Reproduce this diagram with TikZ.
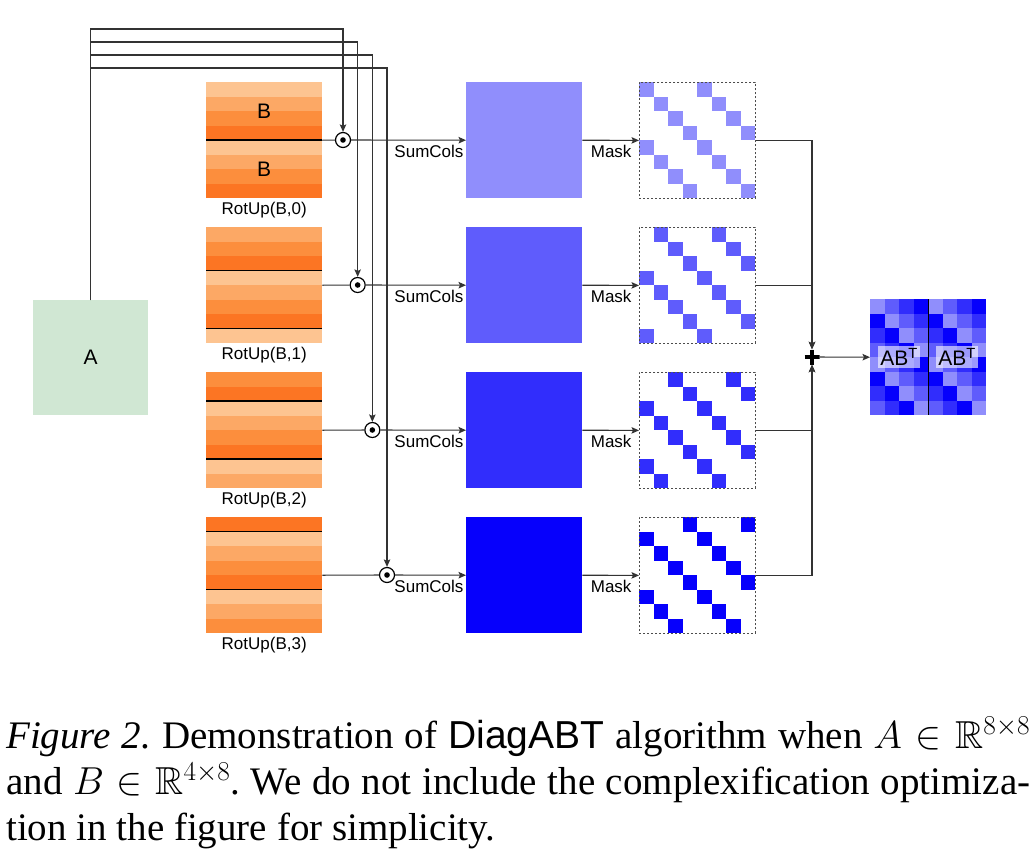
\RequirePackage{fix-cm}
\documentclass[tikz,border=0pt]{standalone}
\usepackage{amssymb}
\usepackage{fontspec}
\setmainfont{Liberation Serif}
\setsansfont{Liberation Sans}
\usetikzlibrary{arrows.meta}
\definecolor{bz0}{RGB}{253,196,145}
\definecolor{bz1}{RGB}{252,168,101}
\definecolor{bz2}{RGB}{252,142,61}
\definecolor{bz3}{RGB}{252,117,35}
\definecolor{sz0}{RGB}{144,142,252}
\definecolor{sz1}{RGB}{95,92,252}
\definecolor{sz2}{RGB}{49,45,252}
\definecolor{sz3}{RGB}{6,0,252}
\definecolor{agreen}{RGB}{208,231,211}
\frenchspacing
\begin{document}
\begin{tikzpicture}
	[x=1pt,y=-1pt,
	 conn/.style={draw=black!80,line width=1.1pt},
	 arr/.style={conn,-{Stealth[length=7.5pt,width=6.5pt,inset=1.5pt]}},
	 blk/.style={minimum size=116pt,inner sep=0pt,anchor=north west},
	 lbl/.style={font=\sffamily\fontsize{17}{19}\selectfont,inner sep=1pt},
	 biglbl/.style={font=\sffamily\fontsize{21}{23}\selectfont},
	 odot/.style={circle,draw=black,line width=1.2pt,minimum size=15pt,inner sep=0pt,
	   path picture={\fill (path picture bounding box.center) circle (2.8pt);}},
	 plusnode/.style={minimum size=15pt,inner sep=0pt,
	   path picture={\draw[line width=3.5pt]
	     (path picture bounding box.north) -- (path picture bounding box.south)
	     (path picture bounding box.west) -- (path picture bounding box.east);}}]
\useasboundingbox (0,0) rectangle (1036,865);
% A
\node[blk,fill=agreen,minimum width=115pt,minimum height=115pt,biglbl] (a) at (33,300) {};
\node[biglbl] at (a.center) {A};
\foreach \k/\ja in {0/4,1/3,2/2,3/1} {
  \pgfmathsetmacro\yt{82+145*\k}
  % RotUp(B,k)
  \foreach \j in {0,...,7} {
    \pgfmathtruncatemacro\c{mod(\j+\k,4)}
    \fill[bz\c] (206,\yt+14.5*\j) rectangle ++(116,14.6);
  }
  \draw[line width=1.4pt] (206,\yt+14.5*\ja) -- ++(116,0);
  \ifnum\ja=4\else \draw[line width=1.4pt] (206,\yt+14.5*\ja+58) -- ++(116,0);\fi
  \node[blk] (b\k) at (206,\yt) {};
  \node[lbl,anchor=north,inner ysep=4pt] (rot\k) at (b\k.south) {RotUp(B,\k)};
  % odot
  \node[odot] (o\k) at (343+14.67*\k,\yt+58) {};
  \coordinate (t\k) at (343+14.67*\k,29+13*\k);
  % SumCols
  \node[blk,fill=sz\k] (s\k) at (466,\yt) {};
  % Mask
  \foreach \r in {0,...,7}
    \foreach \q in {0,4} {
      \pgfmathtruncatemacro\c{mod(\r+\k,4)+\q}
      \fill[sz\k] (639+14.5*\c,\yt+14.5*\r) rectangle ++(14.5,14.5);
    }
  \node[blk,draw=black!70,line width=0.8pt,dash pattern=on 2pt off 2pt] (m\k) at (639,\yt) {};
}
\node[biglbl] at (264,111) {B};
\node[biglbl] at (264,169) {B};
% AB^T
\foreach \r in {0,...,7}
  \foreach \c in {0,...,7} {
    \pgfmathtruncatemacro\i{mod(\c-\r+8,4)}
    \fill[sz\i] (870+14.5*\c,299+14.5*\r) rectangle ++(14.6,14.6);
  }
\node[blk] (out) at (870,299) {};
\draw[line width=1.3pt] (out.north) -- (out.south);
\node[biglbl,fill=white,fill opacity=0.6,text opacity=1,inner sep=2pt] (abl) at (899,357) {AB\textsuperscript{T}};
\node[biglbl,fill=white,fill opacity=0.6,text opacity=1,inner sep=2pt] (abr) at (957,357) {AB\textsuperscript{T}};
\node[plusnode] (plus) at (812,357) {};
% connectors
\foreach \k in {0,...,3} {
  \draw[arr] (a.north) |- (t\k) -- (o\k.north);
  \draw[conn] (b\k.east) -- (o\k);
  \draw[arr] (o\k) -- (s\k.west) node[lbl,anchor=north east,pos=1,inner xsep=2pt,inner ysep=4pt] {SumCols};
  \draw[arr] (s\k.east) -- (m\k.west) node[lbl,anchor=north east,pos=1,inner xsep=7pt,inner ysep=4pt] {Mask};
  \draw[arr] (m\k.east) -| (plus);
}
\draw[arr] (plus) -- (out.west);
% caption
\node[anchor=north west,inner sep=0pt,text width=1024pt,align=justify,
      font=\fontsize{39}{46}\selectfont] (cap) at (6,716) {\strut\textit{Figure 2.} Demonstration of \textsf{DiagABT} algorithm when $A\in\mathbb{R}^{8\times8}$\linebreak
and $B\in\mathbb{R}^{4\times8}$. We do not include the complexification optimiza-\linebreak
tion in the figure for simplicity.};
\end{tikzpicture}
\end{document}
